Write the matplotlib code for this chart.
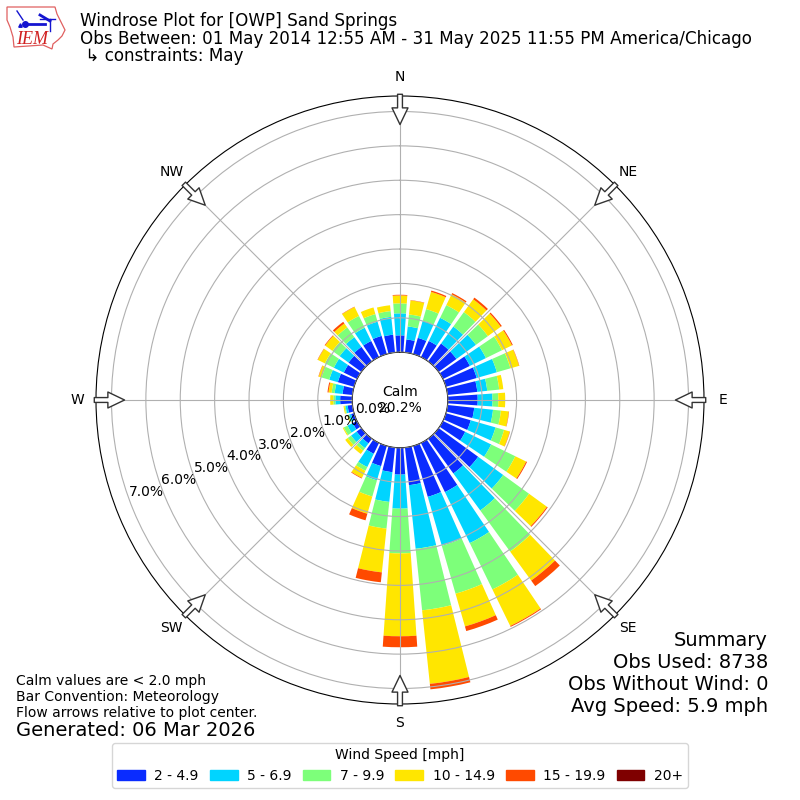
#!/usr/bin/env python3
"""Windrose for [OWP] Sand Springs, May obs, percent by direction and speed bin."""

import numpy as np
import matplotlib
matplotlib.use("Agg")
import matplotlib.pyplot as plt
from matplotlib.patches import Patch, Polygon

directions = np.arange(0, 360, 10)

# percent of obs per direction (0, 10, ... 350) for every speed bin
speed_2_5 = [.49, .38, .49, .52, .64, .64, .87, .93, .87, .87, .78, .75,
             .72, 1.42, 1.25, 1.59, 1.54, 1.10, .78, .72, .61, .35, .17, .17,
             .14, .09, .14, .35, .29, .49, .43, .46, .52, .52, .55, .52]
speed_5_7 = [.64, .38, .52, .75, .61, .70, .52, .61, .29, .43, .55, .75,
             .84, .90, 1.33, 1.65, 1.48, 1.86, .99, .87, .43, .43, .17, .20,
             .17, .06, .06, .14, .23, .26, .32, .32, .35, .43, .43, .52]
speed_7_10 = [.29, .35, .35, .41, .52, .43, .52, .41, .35, .17, .23, .26,
              .78, .93, 1.48, 1.50, 1.45, 1.80, 1.30, .78, .49, .12, .09, .12,
              .12, .03, .03, .06, .09, .23, .29, .26, .35, .38, .23, .17]
speed_10_15 = [.23, .41, .52, .35, .46, .46, .32, .26, .12, .20, .23, .17,
               .35, .64, 1.04, 1.18, .99, 2.15, 2.41, 1.28, .52, .23, .12, .09,
               .03, .03, .03, .09, .09, .09, .23, .26, .14, .29, .20, .17]
speed_15_20 = [.02, .01, .04, .04, .06, .04, .03, .01, 0, 0, .01, .01,
               .03, .03, .20, .03, .14, .16, .32, .29, .20, .02, 0, 0,
               0, 0, 0, 0, .03, .01, .01, .02, .06, .01, 0, 0]
speed_20_up = [0] * 36

bin_labels = ["2 - 4.9", "5 - 6.9", "7 - 9.9", "10 - 14.9", "15 - 19.9", "20+"]
bin_colors = ["#0a2cff", "#00d4ff", "#7dff7a", "#ffe600", "#ff4a00", "#7f0000"]
bins = [speed_2_5, speed_5_7, speed_7_10, speed_10_15, speed_15_20, speed_20_up]

r_ticks = [0, 1, 2, 3, 4, 5, 6, 7]
compass = ["N", "NE", "E", "SE", "S", "SW", "W", "NW"]

# logo shapes, pixels in the top left corner
iowa_x = [7, 55, 57, 60, 65, 62, 58, 53, 52, 43, 14, 13, 10, 7, 7]
iowa_y = [7, 7, 14, 20, 30, 36, 40, 44, 49, 45, 47, 37, 27, 20, 7]

fig = plt.figure(figsize=(8, 8), dpi=100)
ax = fig.add_axes([0.12, 0.12, 0.76, 0.76], projection="polar")
ax.set_theta_zero_location("N")
ax.set_theta_direction(-1)

theta = np.deg2rad(directions)
bottom = np.zeros(len(directions))
for vals, color in zip(bins, bin_colors):
    vals = np.array(vals, dtype=float)
    ax.bar(theta, vals, width=np.deg2rad(8), bottom=bottom, color=color,
           linewidth=0, zorder=2)
    bottom += vals

ax.set_ylim(0, 7.45)
ax.set_rorigin(-1.39)
ax.set_rgrids(r_ticks, [f"{v:.1f}%" for v in r_ticks], angle=250)
ax.set_thetagrids(np.arange(0, 360, 45), compass)
ax.tick_params(axis="x", pad=3, labelsize=10)
ax.tick_params(axis="y", labelsize=10)
ax.grid(True, color="#b0b0b0", zorder=3)
ax.set_axisbelow(False)

# flow arrows on the rim
for deg in np.arange(0, 360, 45):
    ax.annotate("", xy=(np.deg2rad(deg), 6.62), xytext=(np.deg2rad(deg), 7.5),
                annotation_clip=False, zorder=5,
                arrowprops=dict(facecolor="white", edgecolor="#333333",
                                width=3.5, headwidth=11.5, headlength=12,
                                shrink=0, linewidth=1))

fig.text(0.5, 0.5, "Calm\n20.2%", ha="center", va="center", fontsize=10, zorder=6)

fig.text(80 / 800, 1 - 12 / 800,
         "Windrose Plot for [OWP] Sand Springs\n"
         "Obs Between: 01 May 2014 12:55 AM - 31 May 2025 11:55 PM America/Chicago\n"
         " ↳ constraints: May",
         fontsize=12.05, va="top", ha="left", linespacing=0.98)

fig.text(768 / 800, 1 - 716 / 800,
         "Summary\nObs Used: 8738\nObs Without Wind: 0\nAvg Speed: 5.9 mph",
         fontsize=14, ha="right", va="bottom")
fig.text(16 / 800, 1 - 720 / 800,
         "Calm values are < 2.0 mph\nBar Convention: Meteorology\n"
         "Flow arrows relative to plot center.",
         fontsize=10, ha="left", va="bottom")
fig.text(16 / 800, 1 - 740 / 800, "Generated: 06 Mar 2026", fontsize=14,
         ha="left", va="bottom")

handles = [Patch(color=c, label=l) for c, l in zip(bin_colors, bin_labels)]
fig.legend(handles=handles, title="Wind Speed [mph]", ncol=6, fontsize=10,
           title_fontsize=10, loc="lower center", handletextpad=0.68,
           columnspacing=0.8, borderpad=0.35,
           bbox_to_anchor=(0.5, 12 / 800), borderaxespad=0)

# small IEM logo
logo = fig.add_axes([0, 1 - 55 / 800, 75 / 800, 55 / 800])
logo.set_xlim(0, 75)
logo.set_ylim(55, 0)
logo.axis("off")
logo.add_patch(Polygon(np.c_[iowa_x, iowa_y], closed=True, fill=False,
                       edgecolor="#e06060", linewidth=0.9))
logo.plot([25, 45], [23.5, 23.5], color="#1515d0", lw=2)
logo.plot([25], [23.5], "o", color="#1515d0", ms=4)
logo.plot([17, 23], [11, 20], color="#1515d0", lw=1)
logo.plot([40, 50], [15, 21], color="#1515d0", lw=2)
logo.plot([40, 55], [19, 19], color="#1515d0", lw=1)
logo.plot([50, 50], [19, 31], color="#1515d0", lw=1)
logo.plot([20], [25], "^", color="#1515d0", ms=2.5)
logo.text(16, 44, "IEM", color="#d02020", family="Liberation Serif",
          style="italic", fontsize=13, ha="left", va="baseline")

fig.savefig("out.png", dpi=100)
